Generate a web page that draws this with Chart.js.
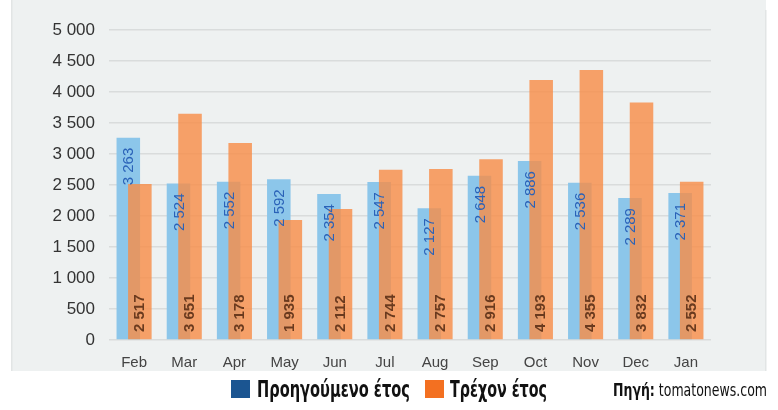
<!DOCTYPE html>
<html>
<head>
<meta charset="utf-8">
<script src="https://cdn.jsdelivr.net/npm/chart.js@4.4.1/dist/chart.umd.min.js"></script>
<style>
  html, body { margin: 0; padding: 0; background: #ffffff; }
  #wrap { position: relative; width: 778px; height: 410px; overflow: hidden; }
  #c { position: absolute; left: 0; top: 0; }
  .leg { position: absolute; font-family: "DejaVu Sans Condensed", "Liberation Sans Narrow", sans-serif; font-weight: bold; color: #111; white-space: nowrap; transform-origin: 0 0; }
  .box { position: absolute; width: 19px; height: 18px; top: 380px; }
</style>
</head>
<body>
<div id="wrap">
  <canvas id="c" width="778" height="410"></canvas>
  <div class="box" style="left:231px; background:#1b5591;"></div>
  <div class="leg" id="l1" data-w="153" data-cap="16.5" data-base="397" style="left:257px;"></div>
  <div class="box" style="left:425px; background:#f37021;"></div>
  <div class="leg" id="l2" data-w="97" data-cap="16.5" data-base="397" style="left:450px;"></div>
  <div class="leg" id="src" data-w="154" data-cap="12.5" data-base="397" style="left:613px; font-weight:normal;"><b>Πηγή:</b> tomatonews.com</div>
</div>
<script>
const categories = ["Feb","Mar","Apr","May","Jun","Jul","Aug","Sep","Oct","Nov","Dec","Jan"];
const previousYear = [3263, 2524, 2552, 2592, 2354, 2547, 2127, 2648, 2886, 2536, 2289, 2371];
const currentYear  = [2517, 3651, 3178, 1935, 2112, 2744, 2757, 2916, 4193, 4355, 3832, 2552];
const yTicks = [0, 500, 1000, 1500, 2000, 2500, 3000, 3500, 4000, 4500, 5000];
const seriesNames = ["Προηγούμενο έτος", "Τρέχον έτος"];

document.getElementById('l1').textContent = seriesNames[0];
document.getElementById('l2').textContent = seriesNames[1];

// fit legend / source text: cap height -> font size, natural width -> horizontal scale
document.querySelectorAll('.leg').forEach(el => {
  const cap = parseFloat(el.dataset.cap);
  const fs = cap / 0.729;
  el.style.fontSize = fs + 'px';
  el.style.lineHeight = fs + 'px';
  const w = el.getBoundingClientRect().width;
  const sx = parseFloat(el.dataset.w) / w;
  // baseline approx at 0.8 of line box for DejaVu
  const base = parseFloat(el.dataset.base);
  el.style.top = (base - fs * 0.86) + 'px';
  el.style.transform = 'scaleX(' + sx + ')';
});

function fmt(v) { return String(v).replace(/\B(?=(\d{3})+(?!\d))/g, " "); }

const panelPlugin = {
  id: 'panel',
  beforeDraw(chart) {
    const ctx = chart.ctx;
    ctx.save();
    ctx.fillStyle = '#eef1f1';
    ctx.fillRect(12, 0, 754, 371);
    ctx.fillStyle = '#e2e5e5';
    ctx.fillRect(11, 0, 1.5, 371);
    ctx.fillRect(765, 10, 1.5, 361);
    ctx.restore();
  }
};

// draw "current year" bars on top of "previous year" bars while keeping left/right grouping
const layerPlugin = {
  id: 'layer',
  beforeDatasetDraw(chart, args) {
    if (args.index === 1) return false;
  },
  afterDatasetDraw(chart, args) {
    if (args.index === 0) {
      chart.getDatasetMeta(1).controller.draw();
    }
  }
};

const labelPlugin = {
  id: 'vlabels',
  afterDatasetsDraw(chart) {
    const ctx = chart.ctx;
    const yScale = chart.scales.y;
    const base = yScale.getPixelForValue(0);
    chart.data.datasets.forEach((ds, di) => {
      const meta = chart.getDatasetMeta(di);
      meta.data.forEach((bar, i) => {
        const v = ds.data[i];
        ctx.save();
        if (di === 0) {
          ctx.translate(bar.x + 1, bar.y + 10);
          ctx.rotate(-Math.PI / 2);
          ctx.textAlign = 'right';
          ctx.font = '15px "Liberation Sans", Arial, sans-serif';
          ctx.fillStyle = '#2a62b8';
        } else {
          ctx.translate(bar.x, base - 8);
          ctx.rotate(-Math.PI / 2);
          ctx.textAlign = 'left';
          ctx.font = 'bold 15px "Liberation Sans", Arial, sans-serif';
          ctx.fillStyle = '#6a3a1e';
        }
        ctx.textBaseline = 'middle';
        ctx.fillText(fmt(v), 0, 0);
        ctx.restore();
      });
    });
  }
};

new Chart(document.getElementById('c'), {
  type: 'bar',
  data: {
    labels: categories,
    datasets: [
      {
        label: seriesNames[0],
        data: previousYear,
        backgroundColor: '#8cc6ea',
        borderWidth: 0,
        categoryPercentage: 0.46,
        barPercentage: 2.04
      },
      {
        label: seriesNames[1],
        data: currentYear,
        backgroundColor: 'rgba(247,140,70,0.8)',
        borderWidth: 0,
        categoryPercentage: 0.46,
        barPercentage: 2.04
      }
    ]
  },
  options: {
    responsive: false,
    animation: false,
    devicePixelRatio: 1,
    layout: { padding: { left: 0, right: 67, top: 30, bottom: 40 } },
    plugins: {
      legend: { display: false },
      tooltip: { enabled: false }
    },
    scales: {
      x: {
        grid: { display: false },
        border: { display: false },
        ticks: {
          color: '#444',
          font: { family: '"Liberation Sans", Arial, sans-serif', size: 15 },
          padding: 6,
          maxRotation: 0
        },
        afterFit(s) { s.height = 30; }
      },
      y: {
        min: 0,
        max: 5000,
        afterBuildTicks(s) { s.ticks = yTicks.map(v => ({ value: v })); },
        grid: { color: '#d9dcdc', lineWidth: 1.5, drawTicks: false },
        border: { display: false },
        ticks: {
          color: '#333',
          font: { family: '"Liberation Sans", Arial, sans-serif', size: 17 },
          padding: 14,
          callback: v => fmt(v)
        },
        afterFit(s) { s.width = 109; }
      }
    }
  },
  plugins: [panelPlugin, layerPlugin, labelPlugin]
});
</script>
</body>
</html>
